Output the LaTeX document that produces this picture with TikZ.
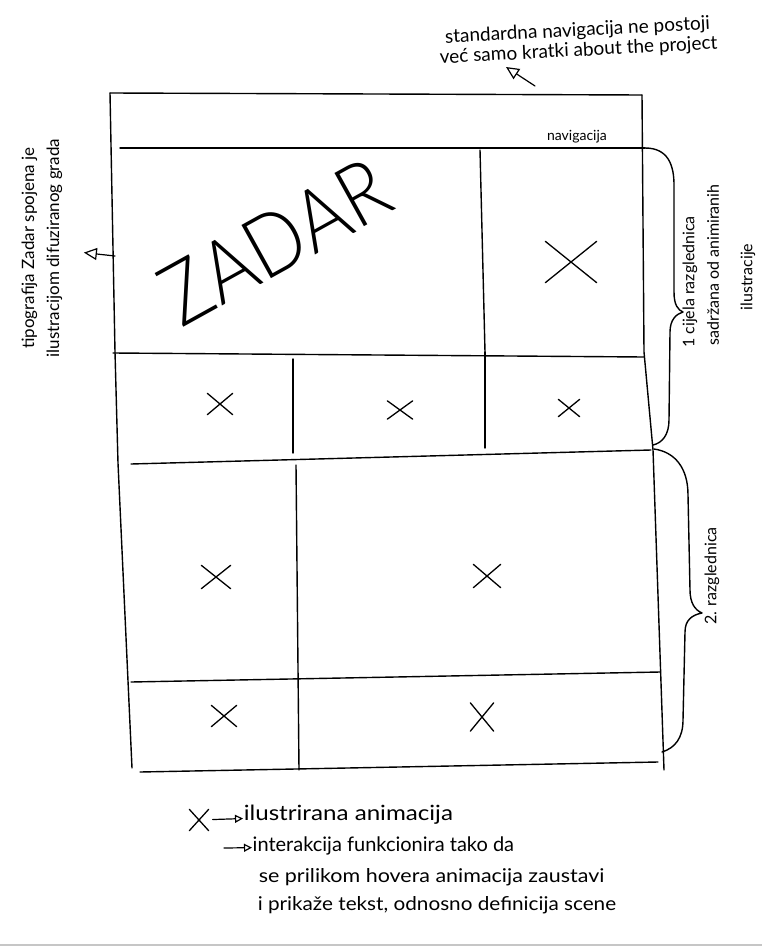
\documentclass[tikz,border=0pt]{standalone}
\usepackage{fontspec}
\setmainfont{Lato}
\newfontfamily\tanko{Lato Light}
\usetikzlibrary{arrows.meta,shapes.misc}

\begin{document}
\begin{tikzpicture}[x=1pt,y=-1pt,line width=1.4pt,line cap=round,line join=round,
    ilu/.style={draw,cross out,line width=1.3pt,minimum width=24pt,minimum height=20pt,inner sep=0pt},
    note/.style={font=\fontsize{16}{22}\selectfont,align=center,inner sep=1pt},
    legend/.style={anchor=west,inner sep=0pt},
    pointer/.style={-{Triangle[open,length=13pt,width=12pt]},line width=1.2pt},
    minipointer/.style={-{Triangle[open,length=8pt,width=8pt]},line width=1.2pt}]
    \useasboundingbox (0,0) rectangle (762,947);
    \draw[gray!45,line width=1.5pt] (0,945) -- (762,945);

    % okvir stranice
    \draw (110,93) -- (115,352) -- (118,463) -- (132,768);
    \draw (110,93) -- (642,95);
    \draw (642,95) -- (644,352) -- (653,450) -- (664,770);
    \draw (120,148) -- (645,148);
    \node[font=\fontsize{14}{16}\selectfont] (nav) at (577,137) {navigacija};

    % prva razglednica
    \draw (480,150) -- (485,352);
    \draw (113,353) -- (644,357);
    \draw (293,359) -- (293,453);
    \draw (485,352) -- (485,448);
    \draw (131,464) -- (651,450);
    \node[rotate=29,xscale=0.88,font=\tanko\fontsize{86}{86}\selectfont] (zadar) at (275,242) {ZADAR};
    \node[ilu,minimum width=50pt,minimum height=40pt] (x1) at (571,262) {};
    \node[ilu] (x2) at (220,404) {};
    \node[ilu,minimum height=17pt] (x3) at (400,410) {};
    \node[ilu,minimum width=20pt,minimum height=16pt] (x4) at (569,408) {};

    % druga razglednica
    \draw (296,465) -- (299,770);
    \draw (131,682) -- (660,672);
    \draw (140,772) -- (658,762);
    \node[ilu,minimum width=28pt,minimum height=22pt] (x5) at (216,577) {};
    \node[ilu,minimum width=26pt,minimum height=22pt] (x6) at (487,576) {};
    \node[ilu] (x7) at (224,716) {};
    \node[ilu,minimum width=22pt,minimum height=27pt] (x8) at (482,717) {};

    % zagrade
    \draw (645,148) .. controls (668,148) and (674,165) .. (674,185) -- (674,292)
        .. controls (674,305) and (678,310) .. (683,312)
        .. controls (676,314) and (670,320) .. (670,332) -- (669,420)
        .. controls (669,435) and (662,443) .. (653,445);
    \draw (654,449) .. controls (675,452) and (688,468) .. (688,495) -- (690,590)
        .. controls (690,603) and (695,610) .. (702,613)
        .. controls (692,615) and (685,620) .. (685,632) -- (683,720)
        .. controls (683,738) and (675,748) .. (662,752);
    \node[note,rotate=90] (raz1) at (690,282) {1 cijela razglednica};
    \node[note,rotate=90] (raz1b) at (713,265) {sadržana od animiranih};
    \node[note,rotate=90] (raz1c) at (748,277) {ilustracije};
    \node[note,rotate=90] (raz2) at (712,576) {2. razglednica};

    % opisi
    \node[note,rotate=3,font=\fontsize{19}{20}\selectfont] (opis) at (578,41) {standardna navigacija ne postoji\\već samo kratki about the project};
    \coordinate (navrep) at (535,86);
    \coordinate (navtip) at (506,67);
    \draw[pointer] (navrep) -- (navtip);
    \node[note,rotate=90,font=\fontsize{17}{25}\selectfont] (tipo) at (42,248) {tipografija Zadar spojena je\\ilustracijom difuziranog grada};
    \coordinate (zlijevo) at (115,256);
    \draw[pointer,shorten >=20pt] (zlijevo) -- (tipo);

    % legenda
    \node[ilu,minimum width=18pt,minimum height=20pt] (leg) at (199,820) {};
    \node[legend,xscale=1.15,font=\fontsize{21}{24}\selectfont] (lilu) at (243,815) {ilustrirana animacija};
    \draw[minipointer,shorten <=4pt] (leg) -- (lilu);
    \coordinate (lstr) at (224,848);
    \node[legend,font=\fontsize{20}{22}\selectfont] (lint) at (252,846) {interakcija funkcionira tako da};
    \draw[minipointer] (lstr) -- (lint);
    \node[legend,xscale=1.13,font=\fontsize{19}{22}\selectfont] (lhov) at (258,877) {se prilikom hovera animacija zaustavi};
    \node[legend,xscale=1.09,font=\fontsize{19}{22}\selectfont] (ltek) at (257,905) {i prikaže tekst, odnosno definicija scene};
\end{tikzpicture}
\end{document}
